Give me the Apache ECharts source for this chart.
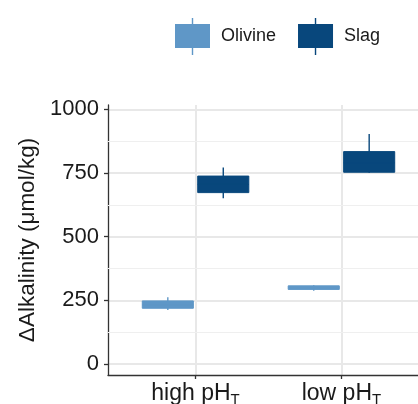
<!DOCTYPE html>
<html><head><meta charset="utf-8">
<script src="https://cdn.jsdelivr.net/npm/echarts@6/dist/echarts.min.js"></script>
<style>html,body{margin:0;padding:0;background:#fff}#c{width:418px;height:404px}</style>
</head><body><div id="c"></div>
<script>
// categories (x positions 1, 2)
const categories = ['high pH', 'low pH'];
const categorySub = ['T', 'T'];
const seriesNames = ['Olivine', 'Slag'];
// each row: [min, Q1, median, Q3, max]
const olivineStats = [[212, 219, 232, 248, 262], [288, 293, 300, 307, 309]];
const slagStats = [[651, 673, 705, 738, 772], [751, 753, 790, 834, 903]];
const yTicks = [0, 250, 500, 750, 1000];
const yMinor = [125, 375, 625, 875];
const xTicks = [1, 2];

const colors = ['#5f97c7', '#08477c'];
const offsets = [-0.19, 0.19];
const boxW = 0.35;

function toData(stats) {
  return stats.map((s, i) => [xTicks[i]].concat(s));
}
function makeRender(offset, color) {
  return function (params, api) {
    const x = api.value(0) + offset;
    const lo = api.coord([x, api.value(1)]);
    const q1 = api.coord([x, api.value(2)]);
    const md = api.coord([x, api.value(3)]);
    const q3 = api.coord([x, api.value(4)]);
    const hi = api.coord([x, api.value(5)]);
    const half = api.size([boxW, 0])[0] / 2;
    return {
      type: 'group',
      children: [
        { type: 'line', shape: { x1: lo[0], y1: lo[1], x2: hi[0], y2: hi[1] }, style: { stroke: color, lineWidth: 1.4 } },
        { type: 'rect', shape: { x: q3[0] - half, y: q3[1], width: half * 2, height: q1[1] - q3[1] }, style: { fill: color, stroke: color, lineWidth: 1 } },
        { type: 'line', shape: { x1: md[0] - half, y1: md[1], x2: md[0] + half, y2: md[1] }, style: { stroke: color, lineWidth: 1 } }
      ]
    };
  };
}
const legendIcon = 'path://M0,6H35V30H0Z M16.8,0H18.2V37H16.8Z';

const chart = echarts.init(document.getElementById('c'), null, { renderer: 'canvas' });
const gridColor = '#e8e8e8';
chart.setOption({
  animation: false,
  backgroundColor: '#fff',
  textStyle: { fontFamily: 'Liberation Sans, Arial, sans-serif' },
  legend: {
    top: 13, left: 170,
    itemWidth: 35, itemHeight: 37, itemGap: 22,
    data: seriesNames.map(n => ({ name: n, icon: legendIcon })),
    textStyle: { fontSize: 18, color: '#1a1a1a', padding: [0, 0, 0, 6] }
  },
  grid: { left: 108, right: -11, top: 105, bottom: 29, outerBoundsMode: 'none' },
  xAxis: {
    type: 'value', min: 0.4, max: 2.6,
    axisLine: { show: true, onZero: false, lineStyle: { color: '#333', width: 1.3 } },
    axisTick: { show: true, customValues: xTicks, length: 4, lineStyle: { color: '#333', width: 1.3 } },
    axisLabel: {
      customValues: xTicks, margin: 6, color: '#1a1a1a',
      formatter: v => '{a|' + categories[v - 1] + '}{s|' + categorySub[v - 1] + '}',
      rich: {
        a: { fontSize: 23, color: '#1a1a1a', fontFamily: 'Liberation Sans' },
        s: { fontSize: 15, color: '#1a1a1a', fontFamily: 'Liberation Sans', padding: [11, 0, 0, 0] }
      }
    },
    splitLine: { show: true, lineStyle: { color: gridColor, width: 2 } }
  },
  yAxis: {
    type: 'value', min: -43, max: 1017,
    name: 'ΔAlkalinity (μmol/kg)', nameLocation: 'middle', nameGap: 67, nameRotate: 90,
    nameTextStyle: { fontSize: 22.5, color: '#1a1a1a' },
    axisLine: { show: true, onZero: false, lineStyle: { color: '#333', width: 1.3 } },
    axisTick: { show: true, customValues: yTicks, length: 4, lineStyle: { color: '#333', width: 1.3 } },
    axisLabel: { customValues: yTicks, margin: 9, fontSize: 22, color: '#1a1a1a', formatter: v => String(v) },
    splitLine: { show: true, lineStyle: { color: gridColor, width: 2 } }
  },
  series: [
    {
      name: seriesNames[0], type: 'custom', color: colors[0],
      renderItem: makeRender(offsets[0], colors[0]),
      encode: { x: 0, y: [1, 2, 3, 4, 5] },
      data: toData(olivineStats),
      z: 5,
      markLine: {
        silent: true, symbol: 'none', label: { show: false }, z: 1,
        lineStyle: { color: '#efefef', width: 1.2, type: 'solid' },
        data: yMinor.map(v => ({ yAxis: v }))
      }
    },
    {
      name: seriesNames[1], type: 'custom', color: colors[1],
      renderItem: makeRender(offsets[1], colors[1]),
      encode: { x: 0, y: [1, 2, 3, 4, 5] },
      data: toData(slagStats),
      z: 5
    }
  ]
});
</script>
</body></html>
